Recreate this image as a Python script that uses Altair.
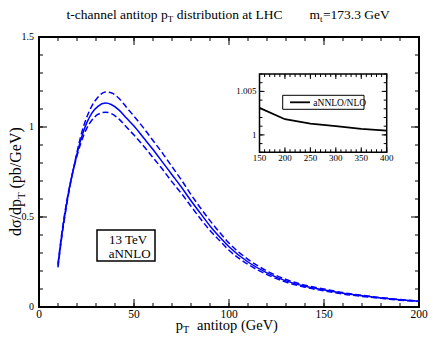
import altair as alt
import pandas as pd

# ---------------- data ----------------
pt = [10, 12, 14, 16, 18, 20, 22, 25, 28, 31, 35, 38, 42, 46, 50, 55, 60, 65, 70,
      75, 80, 85, 90, 95, 100, 110, 120, 130, 140, 150, 160, 170, 180, 190, 200]
central = [0.23, 0.40, 0.54, 0.66, 0.76, 0.85, 0.93, 1.02, 1.08, 1.115, 1.133, 1.125,
           1.095, 1.05, 1.005, 0.94, 0.875, 0.805, 0.735, 0.665, 0.59, 0.52, 0.45,
           0.39, 0.335, 0.25, 0.19, 0.145, 0.115, 0.095, 0.076, 0.062, 0.05, 0.04, 0.032]
upper = [0.22, 0.39, 0.53, 0.655, 0.76, 0.86, 0.95, 1.05, 1.12, 1.165, 1.195, 1.19,
         1.16, 1.11, 1.06, 0.995, 0.925, 0.855, 0.78, 0.705, 0.625, 0.55, 0.48,
         0.415, 0.355, 0.265, 0.2, 0.153, 0.121, 0.1, 0.08, 0.065, 0.052, 0.042, 0.033]
lower = [0.24, 0.41, 0.55, 0.665, 0.76, 0.84, 0.91, 0.99, 1.04, 1.07, 1.082, 1.075,
         1.045, 1.0, 0.955, 0.895, 0.83, 0.765, 0.695, 0.63, 0.56, 0.49, 0.425,
         0.37, 0.315, 0.237, 0.18, 0.138, 0.11, 0.09, 0.072, 0.059, 0.048, 0.038, 0.031]

ratio_pt = [150, 200, 250, 300, 350, 400]
ratio = [1.0031, 1.0018, 1.0013, 1.0010, 1.0007, 1.0005]

# tick values and labels
x_major = [0, 50, 100, 150, 200]
x_labels = ["0", "50", "100", "150", "200"]
x_minor = list(range(0, 201, 10))
y_major = [0, 0.5, 1.0, 1.5]
y_labels = ["0", "0.5", "1", "1.5"]
y_minor = [round(i * 0.1, 1) for i in range(16)]
ix_major = [150, 200, 250, 300, 350, 400]
ix_labels = ["150", "200", "250", "300", "350", "400"]
ix_minor = list(range(150, 401, 10))
iy_major = [1.0, 1.005]
iy_labels = ["1", "1.005"]
iy_minor = [round(0.998 + i * 0.001, 3) for i in range(10)]

# ---------------- layout ----------------
FONT = "Liberation Serif"
W, H = 380, 270
IX0, IX1 = 220.5, 347.7   # inset x pixel range
IY0, IY1 = 115.3, 37.0    # inset y pixel range (bottom, top)
BLUE = "#0000ff"

one = alt.Data(values=[{}])


def txt(s, x, y, size, align="left", angle=0):
    return alt.Chart(one).mark_text(
        text=s, font=FONT, fontSize=size, align=align, baseline="alphabetic",
        angle=angle, color="black"
    ).encode(x=alt.value(x), y=alt.value(y))


xs = alt.Scale(domain=[0, 200], nice=False, zero=False)
ys = alt.Scale(domain=[0, 1.5], nice=False, zero=False)

df_c = pd.DataFrame({"pt": pt, "v": central})
df_d = pd.DataFrame({"pt": pt * 2, "v": upper + lower,
                     "series": ["upper"] * len(pt) + ["lower"] * len(pt)})

solid = alt.Chart(df_c).mark_line(color=BLUE, strokeWidth=1.5, interpolate="monotone").encode(
    x=alt.X("pt:Q", scale=xs, axis=None),
    y=alt.Y("v:Q", scale=ys, axis=None),
)
dashed = alt.Chart(df_d).mark_line(color=BLUE, strokeWidth=1.5, strokeDash=[6, 3],
                                   interpolate="monotone").encode(
    x=alt.X("pt:Q", scale=xs, axis=None),
    y=alt.Y("v:Q", scale=ys, axis=None),
    detail="series:N",
)


def xticks(vals, scale, ybase, length, direction):
    return alt.Chart(pd.DataFrame({"t": vals})).mark_rule(color="black", strokeWidth=1).encode(
        x=alt.X("t:Q", scale=scale, axis=None),
        y=alt.value(ybase), y2=alt.value(ybase + direction * length))


def yticks(vals, scale, xbase, length, direction):
    return alt.Chart(pd.DataFrame({"t": vals})).mark_rule(color="black", strokeWidth=1).encode(
        y=alt.Y("t:Q", scale=scale, axis=None),
        x=alt.value(xbase), x2=alt.value(xbase + direction * length))


def xlabels(vals, labels, scale, ypos, size):
    return alt.Chart(pd.DataFrame({"t": vals, "s": labels})).mark_text(
        font=FONT, fontSize=size, align="center", baseline="top", color="black").encode(
        x=alt.X("t:Q", scale=scale, axis=None), y=alt.value(ypos), text="s:N")


def ylabels(vals, labels, scale, xpos, size):
    return alt.Chart(pd.DataFrame({"t": vals, "s": labels})).mark_text(
        font=FONT, fontSize=size, align="right", baseline="middle", color="black").encode(
        y=alt.Y("t:Q", scale=scale, axis=None), x=alt.value(xpos), text="s:N")


main_ticks = [
    xticks(x_major, xs, H, 8, -1), xticks(x_minor, xs, H, 4, -1),
    xticks(x_major, xs, 0, 8, 1), xticks(x_minor, xs, 0, 4, 1),
    yticks(y_major, ys, 0, 8, 1), yticks(y_minor, ys, 0, 4, 1),
    yticks(y_major, ys, W, 8, -1), yticks(y_minor, ys, W, 4, -1),
    xlabels(x_major, x_labels, xs, H + 1.5, 11.5),
    ylabels(y_major, y_labels, ys, -5, 10),
]

legend_box = alt.Chart(one).mark_rect(fill="white", stroke="black", strokeWidth=1.5).encode(
    x=alt.value(58), x2=alt.value(116), y=alt.value(193), y2=alt.value(224))

texts = [
    # title
    txt("t-channel antitop p", 128.7, -18.5, 13.5, align="right"),
    txt("T", 128.7, -15.5, 9),
    txt("distribution at LHC", 137.7, -18.5, 13.5),
    txt("m", 281, -18.5, 13.5, align="right"),
    txt("t", 281, -15.5, 9),
    txt("=173.3 GeV", 284, -18.5, 13.5),
    # x title
    txt("p", 144, 293, 14.5, align="right"),
    txt("T", 144, 295.5, 10),
    txt("antitop (GeV)", 158, 293, 14.5),
    # y title (rotated)
    txt("dσ/dp", -18, 162, 16, align="right", angle=270),
    txt("T", -14, 162, 11, angle=270),
    txt("(pb/GeV)", -18, 151.5, 16, angle=270),
    # legend
    txt("13 TeV", 70, 207.2, 13),
    txt("aNNLO", 69.7, 220.8, 13),
]

main = alt.layer(solid, dashed, *main_ticks, legend_box, *texts)

# ---------------- inset ----------------
ixs = alt.Scale(domain=[150, 400], range=[IX0, IX1], nice=False, zero=False)
iys = alt.Scale(domain=[0.998, 1.007], range=[IY0, IY1], nice=False, zero=False)

inset_frame = alt.Chart(one).mark_rect(fill="white", stroke="black", strokeWidth=1.5).encode(
    x=alt.datum(150, scale=ixs, axis=None), x2=alt.datum(400),
    y=alt.datum(0.998, scale=iys, axis=None), y2=alt.datum(1.007))

inset_line = alt.Chart(pd.DataFrame({"pt": ratio_pt, "r": ratio})).mark_line(
    color="black", strokeWidth=1.8).encode(
    x=alt.X("pt:Q", scale=ixs, axis=None),
    y=alt.Y("r:Q", scale=iys, axis=None),
)

inset_ticks = [
    xticks(ix_major, ixs, IY0, 5, -1), xticks(ix_minor, ixs, IY0, 3, -1),
    xticks(ix_major, ixs, IY1, 5, 1), xticks(ix_minor, ixs, IY1, 3, 1),
    yticks(iy_major, iys, IX0, 5, 1), yticks(iy_minor, iys, IX0, 3, 1),
    yticks(iy_major, iys, IX1, 5, -1), yticks(iy_minor, iys, IX1, 3, -1),
    xlabels(ix_major, ix_labels, ixs, IY0 + 2, 9),
    ylabels(iy_major, iy_labels, iys, IX0 - 3, 9),
]

inset_leg_box = alt.Chart(one).mark_rect(fill="white", stroke="black", strokeWidth=1).encode(
    x=alt.value(243.7), x2=alt.value(325), y=alt.value(58.3), y2=alt.value(72.3))
inset_leg_line = alt.Chart(one).mark_rule(color="black", strokeWidth=1.8).encode(
    x=alt.value(251), x2=alt.value(271), y=alt.value(65.3))
inset_leg_text = txt("aNNLO/NLO", 274.3, 69, 9.5)

inset = alt.layer(inset_frame, *inset_ticks, inset_line, inset_leg_box, inset_leg_line,
                  inset_leg_text)

chart = alt.layer(main, inset).resolve_scale(x="independent", y="independent").properties(
    width=W, height=H,
    autosize=alt.AutoSizeParams(type="none"),
    padding={"left": 31, "top": 29, "right": 9, "bottom": 28},
    background="white",
).configure_view(stroke="black", strokeWidth=2)

chart.save("out.html", embed_options={"renderer": "svg", "actions": False})
